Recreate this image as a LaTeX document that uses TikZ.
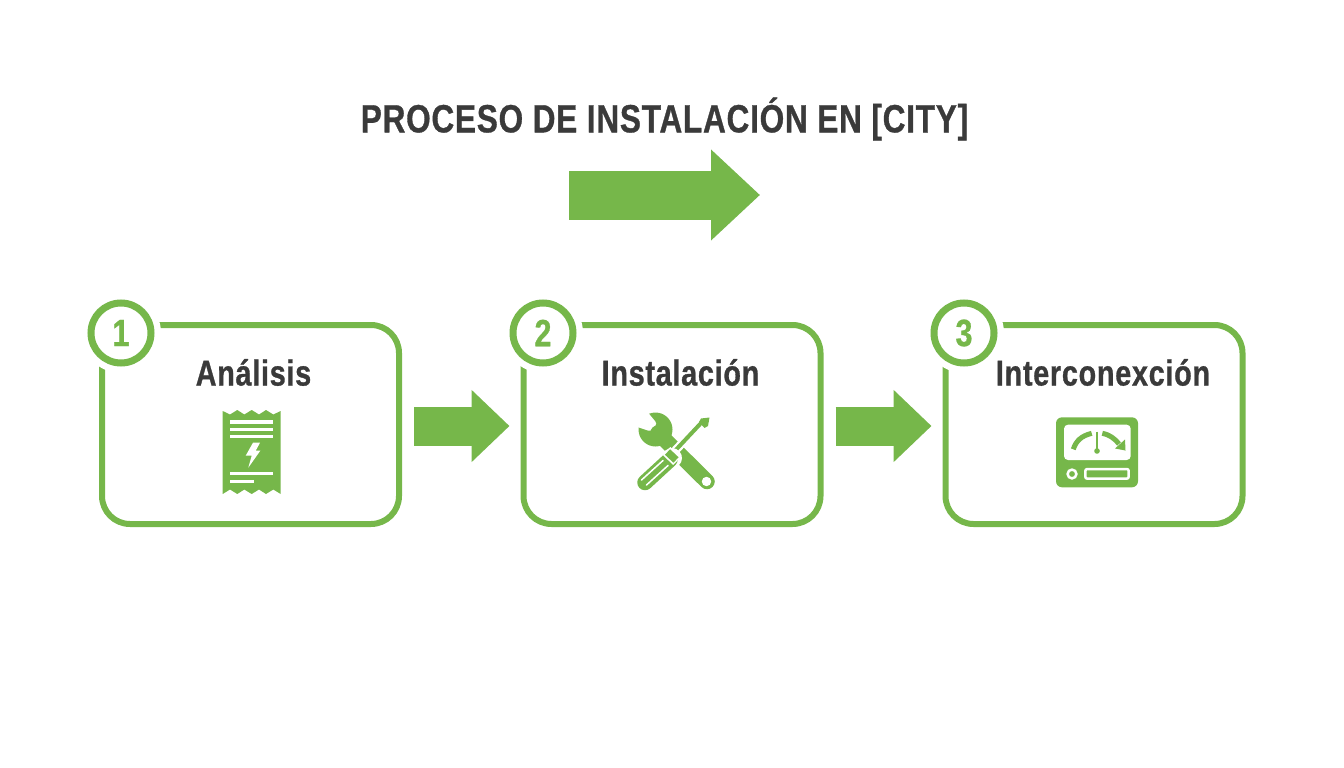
\documentclass[tikz,border=0pt]{standalone}
\usepackage{fontspec}
\usetikzlibrary{arrows.meta}
\newfontfamily\narrowfont[FakeStretch=0.80,LetterSpace=2,BoldFeatures={FakeBold=0.8}]{Liberation Sans}
\definecolor{stepgreen}{HTML}{76B74A}
\definecolor{inkgray}{HTML}{3A3A3A}
\tikzset{
  stepbox/.style={draw=stepgreen, line width=6pt, rounded corners=28pt, minimum width=297pt, minimum height=199pt},
  badge/.style={circle, draw=stepgreen, line width=7pt, fill=white, minimum size=60pt, inner sep=0pt, text=stepgreen, font=\narrowfont\bfseries\fontsize{38}{38}\selectfont},
  steptitle/.style={text=inkgray, inner sep=0pt, font=\narrowfont\bfseries\fontsize{36}{36}\selectfont},
  bigtitle/.style={text=inkgray, inner sep=0pt, font=\narrowfont\bfseries\fontsize{39.4}{39.4}\selectfont},
  flowarrow/.style={draw=stepgreen, line width=39pt, -{Triangle[length=38pt,width=70pt,fill=stepgreen]}, shorten <=12pt, shorten >=11pt}
}
\begin{document}
\begin{tikzpicture}[x=1pt,y=-1pt]
    \useasboundingbox (0,0) rectangle (1344,768);
    \node[bigtitle] (title) at (664.5,119) {PROCESO DE INSTALACIÓN EN [CITY]};
    \coordinate (bigstart) at (569,195);
    \coordinate (bigend) at (760,195);
    \draw[stepgreen, line width=49pt, -{Triangle[length=49pt,width=88pt,fill=stepgreen]}] (bigstart) -- (bigend);
    \foreach \i/\xb/\xn/\xt/\txt in {1/250.5/121/253.5/Análisis,2/672/543/680.5/Instalación,3/1094/964/1103/Interconexción}{
      \node[stepbox] (box\i) at (\xb,424.5) {};
      \fill[white] (\xn,333) circle[radius=40pt];
      \node[badge] (badge\i) at (\xn,333) {\i};
      \node[steptitle] (label\i) at (\xt,372.5) {\txt};
    }
    \foreach \i/\j in {1/2,2/3}{
      \draw[flowarrow] ([yshift=-1.5pt]box\i.east) -- ([yshift=-1.5pt]box\j.west);
    }
    % receipt
    \fill[stepgreen] (222.7,411) -- (230,414.5) -- (237.3,410) -- (244.3,414.5) -- (251.7,410) -- (259,414.5) -- (266,410) -- (273.3,414.5) -- (280.7,411)
      -- (280.7,494) -- (273.3,489.5) -- (266,494) -- (259,489.5) -- (251.7,494) -- (244.3,489.5) -- (237.3,494) -- (230,489.5) -- (222.7,494) -- cycle;
    \foreach \yy/\xe in {422/273,429.5/273,436.5/273,473.7/273,481.3/254}{
      \draw[white, line width=3.5pt] (230,\yy) -- (\xe,\yy);
    }
    \fill[white] (253,442.7) -- (260,442.7) -- (255.7,450.7) -- (260.3,450.7) -- (248.3,467.7) -- (251.7,455.7) -- (245.7,455.7) -- cycle;
    % wrench
    \fill[stepgreen] (655.5,429.5) circle[radius=17pt];
    \fill[white, rounded corners=2.5pt] (636,398) -- (657,423.5) -- (651,431.5) -- (624,422.5) -- cycle;
    \draw[stepgreen, line width=15.5pt, line cap=round] (658,433) -- (707,481.5);
    \fill[white] (706.5,481.5) circle[radius=4.7pt];
    % screwdriver
    \draw[white, line width=8.5pt] (672,454) -- (702,422);
    \draw[stepgreen, line width=4pt] (672,454) -- (702,422);
    \fill[stepgreen] (699,422) -- (701,418.5) -- (709.5,417.5) -- (708,426) -- (704.5,428) -- cycle;
    \draw[white, line width=20pt, line cap=round] (645,482.5) -- (672,458);
    \draw[stepgreen, line width=15.5pt, line cap=round] (645,482.5) -- (670,459.5);
    \draw[white, line width=1.5pt, line cap=round] (641.5,480) -- (663,460.5);
    \draw[white, line width=1.5pt, line cap=round] (646.5,485) -- (668,465.5);
    \draw[white, line width=11pt] (666.5,451) -- (677,461);
    \draw[stepgreen, line width=7.5pt] (667.5,452) -- (676,460);
    % meter
    \fill[stepgreen, rounded corners=6pt] (1056,417.3) rectangle (1138,487.3);
    \fill[white, rounded corners=4pt] (1064,424.7) rectangle (1130.7,460);
    \draw[stepgreen, line width=5pt] (1073.3,449.3) .. controls (1076,441) and (1081,436) .. (1091.7,433.3);
    \draw[stepgreen, line width=5pt] (1102.3,433.3) .. controls (1110,435) and (1114,438) .. (1119,444);
    \fill[stepgreen] (1125.5,450.5) -- (1115,448.5) -- (1125,439.5) -- cycle;
    \draw[stepgreen, line width=2.2pt] (1097,431.5) -- (1097,451);
    \fill[stepgreen] (1097,451) circle[radius=2.8pt];
    \draw[white, line width=2.5pt] (1072,474) circle[radius=4.4pt];
    \draw[white, line width=2.5pt, rounded corners=2pt] (1085.3,469) rectangle (1128.7,478.7);
\end{tikzpicture}
\end{document}
